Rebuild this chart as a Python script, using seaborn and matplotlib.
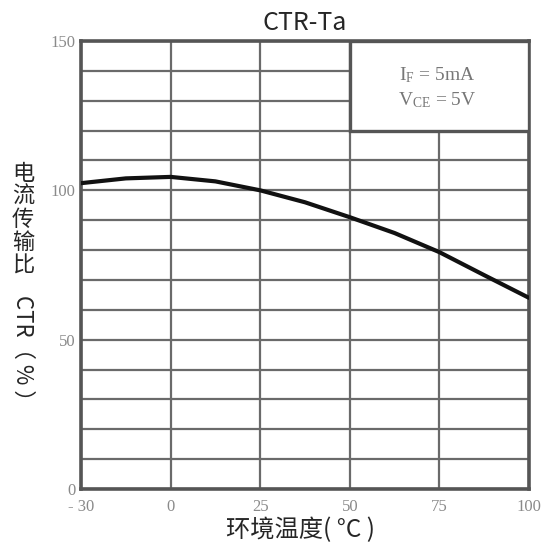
import matplotlib
matplotlib.use("Agg")
import matplotlib.pyplot as plt
from matplotlib.patches import Rectangle
import seaborn as sns
import pandas as pd

# Curve.
# x is given in axis position: the "-30" tick sits one step (25) left of 0
x_pos = [-25, -12.5, 0, 12.5, 25, 37.5, 50, 62.5, 75, 87.5, 100]
ctr = [102.4, 104.0, 104.5, 103.0, 100.0, 96.0, 91.0, 85.7, 79.3, 71.6, 64.0]

x_ticks = [-25, 0, 25, 50, 75, 100]
x_labels = ["- 30", "0", "25", "50", "75", "100"]
y_ticks = [0, 50, 100, 150]
y_minor = list(range(0, 151, 10))

title = "CTR-Ta"
xlabel = "环境温度( °C )"
ylabel_cjk = "电流传输比"
ylabel_rest = "CTR（ % ）"
note = "$\\mathregular{I_F}$ = 5mA\n$\\mathregular{V_{CE}}$ = 5V"

sns.set_style("white")
plt.rcParams['font.family'] = ['Noto Sans CJK SC', 'DejaVu Sans']

fig = plt.figure(figsize=(5.45, 5.5), dpi=100)
ax = fig.add_axes([81 / 545, 61 / 550, 448 / 545, 448 / 550])

df = pd.DataFrame({"x": x_pos, "ctr": ctr})
sns.lineplot(data=df, x="x", y="ctr", ax=ax, color="#111111", lw=3,
             zorder=5)

ax.set_xlim(-25, 100)
ax.set_ylim(0, 150)
ax.set_xticks(x_ticks)
ax.set_xticklabels(x_labels)
ax.set_yticks(y_ticks)
ax.set_yticks(y_minor, minor=True)
ax.grid(True, which="both", color="#6a6a6a", lw=1.6)
ax.set_axisbelow(True)
ax.tick_params(which="both", length=0)
ax.tick_params(axis="x", pad=7)
ax.tick_params(axis="y", pad=4)
for lab in ax.get_xticklabels() + ax.get_yticklabels():
    lab.set_family(["Liberation Serif", "DejaVu Serif"])
    lab.set_color("#8a8a8a")
    lab.set_fontsize(12)
for sp in ax.spines.values():
    sp.set_color("#555555")
    sp.set_linewidth(2.6)

# condition box in the top right, hides the grid under it
ax.add_patch(Rectangle((50, 120), 50, 30, facecolor="white",
                       edgecolor="#555555", lw=2.4, zorder=3))
ax.text(74.5, 134.4, note, ha="center", va="center", fontsize=14,
        color="#777777", family=["Liberation Serif", "DejaVu Serif"],
        linespacing=1.3, zorder=4)

ax.set_xlabel("")
ax.set_ylabel("")
fig.text(305 / 545, 1 - 23 / 550, title, ha="center", va="center",
         fontsize=18)
fig.text(300 / 545, 1 - 530 / 550, xlabel, ha="center", va="center",
         fontsize=17.5)

# vertical y label: upright CJK, rotated latin part
fig.text(23 / 545, 1 - 162 / 550, "\n".join(ylabel_cjk), ha="center",
         va="top", fontsize=16, linespacing=1.0)
fig.text(23 / 545, 1 - 295 / 550, ylabel_rest, ha="center", va="top",
         fontsize=16, rotation=-90)

plt.savefig("out.png", dpi=100)
